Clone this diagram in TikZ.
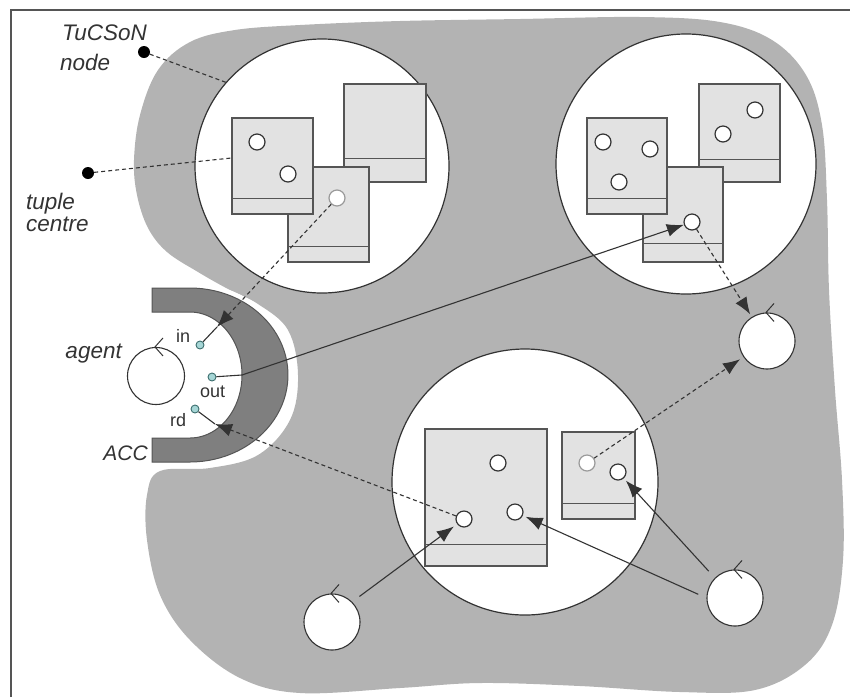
\documentclass[tikz,border=0pt]{standalone}
\usepackage{fontspec}
\setmainfont{Liberation Sans}
\usetikzlibrary{arrows.meta,calc}

\definecolor{blobgray}{HTML}{B3B3B3}
\definecolor{accgray}{HTML}{7F7F7F}
\definecolor{boxgray}{HTML}{E2E2E2}
\definecolor{linegray}{HTML}{555555}
\definecolor{inkgray}{HTML}{333333}
\definecolor{softgray}{HTML}{9A9A9A}
\definecolor{portfill}{HTML}{A6D6D6}
\definecolor{portline}{HTML}{3C6E6E}

\begin{document}
\begin{tikzpicture}[x=1pt,y=-1pt,
  nodesite/.style={circle,draw=inkgray,line width=1.2pt,fill=white,inner sep=0},
  tcbox/.style={rectangle,draw=linegray,line width=1.3pt,fill=boxgray,inner sep=0},
  tupl/.style={circle,draw=inkgray,line width=1.2pt,fill=white,inner sep=0,minimum size=16pt},
  tupllt/.style={tupl,draw=softgray},
  agentc/.style={circle,draw=inkgray,line width=1.1pt,fill=white,inner sep=0,minimum size=57pt},
  accport/.style={circle,draw=portline,line width=0.9pt,fill=portfill,inner sep=0,minimum size=8pt},
  blackdot/.style={circle,fill=black,inner sep=0,minimum size=12pt},
  biglabel/.style={font=\fontsize{22.5}{25}\selectfont\itshape,text=inkgray,inner sep=0},
  portlabel/.style={font=\fontsize{18}{20}\selectfont,text=inkgray,inner sep=0},
  conn/.style={draw=inkgray,line width=1.1pt},
  dconn/.style={conn,dash pattern=on 4pt off 3pt},
  headed/.style={-{Latex[length=17pt,width=13pt]}},
  agmark/.style={draw=inkgray,line width=1pt},
  band/.style={draw=linegray,line width=1.4pt},
]
\useasboundingbox (0,0) rectangle (850,697);

% frame
\draw[linegray,line width=2pt] (11,697) -- (11,10) -- (850,10);

% the shared space of the nodes
\fill[blobgray] plot[smooth cycle,tension=0.6] coordinates {
  (300,25) (400,21) (520,19) (640,17) (720,22) (772,40) (806,75) (822,125)
  (827,200) (829,290) (835,390) (842,480) (843,560) (832,625) (805,665)
  (755,690) (680,692) (580,686) (480,683) (400,688) (300,693) (240,678)
  (190,640) (160,595) (147,540) (147,495) (160,471) (210,468) (258,455)
  (290,420) (298,375) (288,330) (258,304) (228,289) (198,272) (167,252)
  (148,228) (137,195) (134,160) (140,115) (158,70) (190,42) (235,30)};

% TuCSoN nodes
\node[nodesite,minimum size=254pt] (cTL) at (322,166) {};
\node[nodesite,minimum size=260pt] (cTR) at (686,164) {};
\node[nodesite,minimum size=266pt] (cB) at (525,482) {};

% tuple centres, upper left node
\node[tcbox,minimum width=82pt,minimum height=98pt] (rB) at (385,133) {};
\draw[band] ([yshift=24pt]rB.south west) -- ([yshift=24pt]rB.south east);
\node[tcbox,minimum width=81pt,minimum height=95pt] (rC) at (328.5,214.5) {};
\draw[band] ([yshift=16pt]rC.south west) -- ([yshift=16pt]rC.south east);
\node[tcbox,minimum width=81pt,minimum height=96pt] (rA) at (272.5,166) {};
\draw[band] ([yshift=16pt]rA.south west) -- ([yshift=16pt]rA.south east);
\node[tupl] (tA1) at (257,142) {};
\node[tupl] (tA2) at (288,174) {};
\node[tupllt] (tC) at (337,198) {};

% tuple centres, upper right node
\node[tcbox,minimum width=81pt,minimum height=98pt] (rE) at (739.5,133) {};
\draw[band] ([yshift=23pt]rE.south west) -- ([yshift=23pt]rE.south east);
\node[tcbox,minimum width=80pt,minimum height=95pt] (rF) at (683,214.5) {};
\draw[band] ([yshift=19pt]rF.south west) -- ([yshift=19pt]rF.south east);
\node[tcbox,minimum width=80pt,minimum height=96pt] (rD) at (627,166) {};
\draw[band] ([yshift=16pt]rD.south west) -- ([yshift=16pt]rD.south east);
\node[tupl] (tD1) at (603,142) {};
\node[tupl] (tD2) at (650,149) {};
\node[tupl] (tD3) at (619,182) {};
\node[tupl] (tE1) at (755,110) {};
\node[tupl] (tE2) at (723,134) {};
\node[tupl] (tF) at (692,222) {};

% tuple centres, lower node
\node[tcbox,minimum width=122pt,minimum height=137pt] (rG) at (486,497.5) {};
\draw[band] ([yshift=22pt]rG.south west) -- ([yshift=22pt]rG.south east);
\node[tcbox,minimum width=73pt,minimum height=87pt] (rH) at (598.5,475.5) {};
\draw[band] ([yshift=16pt]rH.south west) -- ([yshift=16pt]rH.south east);
\node[tupl] (tG1) at (498,463) {};
\node[tupl] (tG2) at (464,519) {};
\node[tupl] (tG3) at (515,512) {};
\node[tupllt] (tH1) at (587,463) {};
\node[tupl] (tH2) at (618,472) {};

% agent coordination context
\draw[white,line width=10pt] (152,288) --
  plot[domain=-90:90,samples=50] ({190+98*cos(\x)},{375+87*sin(\x)}) -- (152,462);
\filldraw[fill=accgray,draw=linegray,line width=1pt] (152,288) --
  plot[domain=-90:90,samples=50] ({190+98*cos(\x)},{375+87*sin(\x)}) --
  (152,462) -- (152,438) --
  plot[domain=90:-90,samples=50] ({190+52*cos(\x)},{375+63*sin(\x)}) --
  (152,312) -- cycle;

% agents
\node[agentc] (agL) at (156,376) {};
\node[agentc,minimum size=56pt] (agR) at (767,341) {};
\node[agentc,minimum size=56pt] (agBL) at (332,622) {};
\node[agentc,minimum size=56pt] (agBR) at (735,598) {};
\foreach \a in {agL,agR,agBL,agBR}
  \draw[agmark] ([shift={(7,-9)}]\a.north) -- ([xshift=-1pt]\a.north) -- ([shift={(7,9)}]\a.north);

% ACC ports
\node[accport] (pIn) at (200,345) {};
\node[accport] (pOut) at (212,377) {};
\node[accport] (pRd) at (195,409) {};
\coordinate (inTip) at (217,327);
\coordinate (outBend) at (242,375);
\coordinate (rdTip) at (215,424);

% interactions
\draw[dconn,headed] (tC) -- (inTip);
\draw[conn] (inTip) -- (pIn);
\draw[conn] (pOut) -- (outBend);
\draw[conn,headed] (outBend) -- (tF);
\draw[dconn,headed,shorten >=3pt] (tF) -- (agR);
\draw[dconn,headed,shorten >=4pt] (tH1) -- (agR);
\draw[dconn,headed] (tG2) -- (rdTip);
\draw[conn] (rdTip) -- (pRd);
\draw[conn,headed,shorten <=9pt,shorten >=4pt] (agBL.north east) -- (tG2);
\draw[conn,headed,shorten <=9pt,shorten >=3pt] (agBR.west) -- (tG3);
\draw[conn,headed,shorten <=9pt,shorten >=3pt] (agBR.north west) -- (tH2);

% legend pointers
\node[blackdot] (dotN) at (144,52) {};
\node[blackdot] (dotT) at (88,173) {};
\draw[dconn] (dotN) -- (cTL.139);
\draw[dconn] (dotT) -- ([yshift=8pt]rA.west);

% labels
\node[biglabel,anchor=base west] (lTu) at (62,40) {TuCSoN};
\node[biglabel,anchor=base west] (lNode) at (60,70) {node};
\node[biglabel,anchor=base west] (lTuple) at (26,209) {tuple};
\node[biglabel,anchor=base west] (lCentre) at (26,231) {centre};
\node[biglabel,anchor=base east] (lAgent) at (122,358) {agent};
\node[biglabel,anchor=base east,font=\fontsize{21}{23}\selectfont\itshape] (lAcc) at (148,460) {ACC};
\node[portlabel,anchor=base west] (lIn) at (176,342) {in};
\node[portlabel,anchor=base west] (lOut) at (200,397) {out};
\node[portlabel,anchor=base west] (lRd) at (170,426) {rd};
\end{tikzpicture}
\end{document}
